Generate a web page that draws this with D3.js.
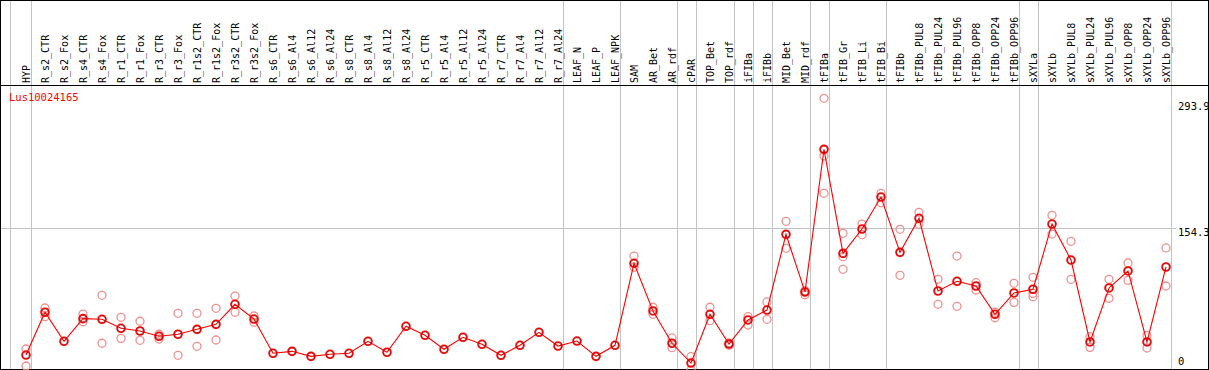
<!DOCTYPE html>
<html><head><meta charset="utf-8">
<script src="https://cdn.jsdelivr.net/npm/d3@7"></script>
<style>html,body{margin:0;padding:0;background:#fff;}svg{display:block;}</style>
</head><body>
<script>
const categories = ["HYP","R_s2_CTR","R_s2_Fox","R_s4_CTR","R_s4_Fox","R_r1_CTR","R_r1_Fox","R_r3_CTR","R_r3_Fox","R_r1s2_CTR","R_r1s2_Fox","R_r3s2_CTR","R_r3s2_Fox","R_s6_CTR","R_s6_Al4","R_s6_Al12","R_s6_Al24","R_s8_CTR","R_s8_Al4","R_s8_Al12","R_s8_Al24","R_r5_CTR","R_r5_Al4","R_r5_Al12","R_r5_Al24","R_r7_CTR","R_r7_Al4","R_r7_Al12","R_r7_Al24","LEAF_N","LEAF_P","LEAF_NPK","SAM","AR_Bet","AR_rdf","cPAR","TOP_Bet","TOP_rdf","iFIBa","iFIBb","MID_Bet","MID_rdf","tFIBa","tFIB_Gr","tFIB_Li","tFIB_Bi","tFIBb","tFIBb_PUL8","tFIBb_PUL24","tFIBb_PUL96","tFIBb_OPP8","tFIBb_OPP24","tFIBb_OPP96","sXYLa","sXYLb","sXYLb_PUL8","sXYLb_PUL24","sXYLb_PUL96","sXYLb_OPP8","sXYLb_OPP24","sXYLb_OPP96"];
const meanValues = [17.2,63.3,32.0,56.4,55.7,46.0,43.1,37.4,39.6,44.9,50.3,71.9,56.0,19.1,21.2,15.8,18.0,19.1,32.0,20.2,48.2,38.5,23.4,36.3,28.8,16.9,27.7,41.7,26.9,32.3,15.8,27.7,116.1,64.7,29.9,8.6,61.1,29.1,55.0,65.7,147.3,85.1,238.9,126.8,153.0,187.5,127.9,164.6,86.2,96.7,91.6,61.1,84.1,88.1,158.4,119.6,31.3,89.5,107.8,31.3,112.1];
const replicateValues = [[23.7,5.4],[67.9,58.5],[],[61.4,53.1],[81.6,29.9],[57.9,35.2],[53.6,33.1],[39.6,34.5],[62.2,16.9],[62.2,26.6],[67.6,33.4],[80.8,63.3],[59.3,52.5],[],[],[],[],[],[],[],[],[],[],[],[],[],[],[],[],[],[],[],[123.9,111.8],[68.7,61.1],[35.6,25.1],[15.4,1.1],[68.7,54.2],[30.2,27.7],[58.5,49.6],[74.4,55.7],[161.3,132.2],[86.5,82.2],[293.9,231.7,191.5],[148.4,123.2,109.6],[158.4,146.9],[191.5,181.4],[152.7,103.1],[171.0,158.1],[98.8,71.9],[123.9,69.7],[95.2,87.3],[63.3,57.4],[94.5,74.0],[101.0,83.7,80.1],[167.8,147.6],[139.8,98.8],[37.0,25.5],[98.8,78.4],[116.4,97.7],[38.5,24.8],[132.6,91.6]];
const groupEnds = ["HYP","R_r7_Al24","LEAF_NPK","AR_rdf","cPAR","TOP_rdf","iFIBa","iFIBb","MID_rdf","tFIBa","tFIB_Bi","tFIBb_OPP96","sXYLa","sXYLb_OPP96"];
const tickValues = [293.9, 154.3, 0];
const gridValues = [154.3];
const geneId = "Lus10024165";

const W = 1209, H = 370;
const font = "'DejaVu Sans Mono', 'Liberation Mono', monospace";
const svg = d3.select("body").append("svg").attr("width", W).attr("height", H);

const x = d3.scalePoint().domain(categories).range([26, 26 + 19 * (categories.length - 1)]);
const y = d3.scaleLinear().domain([0, 293.9]).range([371, 98.3]);

// gray vertical separators
svg.append("line").attr("x1", 10.5).attr("x2", 10.5).attr("y1", 0).attr("y2", H).attr("stroke", "#c3c3c3");
groupEnds.forEach(c => {
  const xx = Math.round(x(c) + 4.5) + 0.5;
  svg.append("line").attr("x1", xx).attr("x2", xx).attr("y1", 0).attr("y2", H).attr("stroke", "#c3c3c3");
});
// gray horizontal grid
gridValues.forEach(v => {
  const yy = Math.round(y(v)) + 0.5;
  svg.append("line").attr("x1", 1).attr("x2", 1176).attr("y1", yy).attr("y2", yy).attr("stroke", "#c3c3c3");
});

// frame
svg.append("line").attr("x1", 0).attr("x2", W).attr("y1", 0.5).attr("y2", 0.5).attr("stroke", "#000");
svg.append("line").attr("x1", 0).attr("x2", W).attr("y1", 85.5).attr("y2", 85.5).attr("stroke", "#000");
svg.append("line").attr("x1", 0).attr("x2", W).attr("y1", 369.5).attr("y2", 369.5).attr("stroke", "#000");
svg.append("line").attr("x1", 0.5).attr("x2", 0.5).attr("y1", 0).attr("y2", H).attr("stroke", "#000");
svg.append("line").attr("x1", 1208.5).attr("x2", 1208.5).attr("y1", 0).attr("y2", H).attr("stroke", "#000");

// header labels
svg.append("g").selectAll("text").data(categories).join("text")
  .attr("transform", d => `translate(${x(d) + 3.5},83) rotate(-90)`)
  .attr("font-family", font).attr("font-size", 10).attr("fill", "#000")
  .text(d => d);

// gene id
svg.append("text").attr("x", 9).attr("y", 101).attr("font-family", font).attr("font-size", 10.5)
  .attr("fill", "#ff0000").text(geneId);

// y labels
svg.append("g").selectAll("text").data(tickValues).join("text")
  .attr("x", 1178).attr("y", d => Math.min(361.7, Math.max(106.7, y(d) + 4.4)))
  .attr("dy", "0.35em")
  .attr("font-family", font).attr("font-size", 10.5).attr("fill", "#000")
  .text(d => d);

const plot = svg.append("g");
// replicates
const reps = [];
replicateValues.forEach((arr, i) => arr.forEach(v => reps.push({c: categories[i], v})));
plot.append("g").selectAll("circle").data(reps).join("circle")
  .attr("cx", d => x(d.c)).attr("cy", d => y(d.v)).attr("r", 4)
  .attr("fill", "none").attr("stroke", "#ee9090").attr("stroke-width", 1.3);

// mean line
const line = d3.line().x((d, i) => x(categories[i])).y(d => y(d));
plot.append("path").datum(meanValues).attr("d", line)
  .attr("fill", "none").attr("stroke", "#ff0000").attr("stroke-width", 1.1);

// mean markers
plot.append("g").selectAll("circle").data(meanValues).join("circle")
  .attr("cx", (d, i) => x(categories[i])).attr("cy", d => y(d)).attr("r", 4)
  .attr("fill", "none").attr("stroke", "#ff0000").attr("stroke-width", 1.6);
plot.append("g").selectAll("circle").data(meanValues).join("circle")
  .attr("cx", (d, i) => x(categories[i])).attr("cy", d => y(d)).attr("r", 3.3)
  .attr("fill", "none").attr("stroke", "#700000").attr("stroke-width", 0.5);
</script>
</body></html>
